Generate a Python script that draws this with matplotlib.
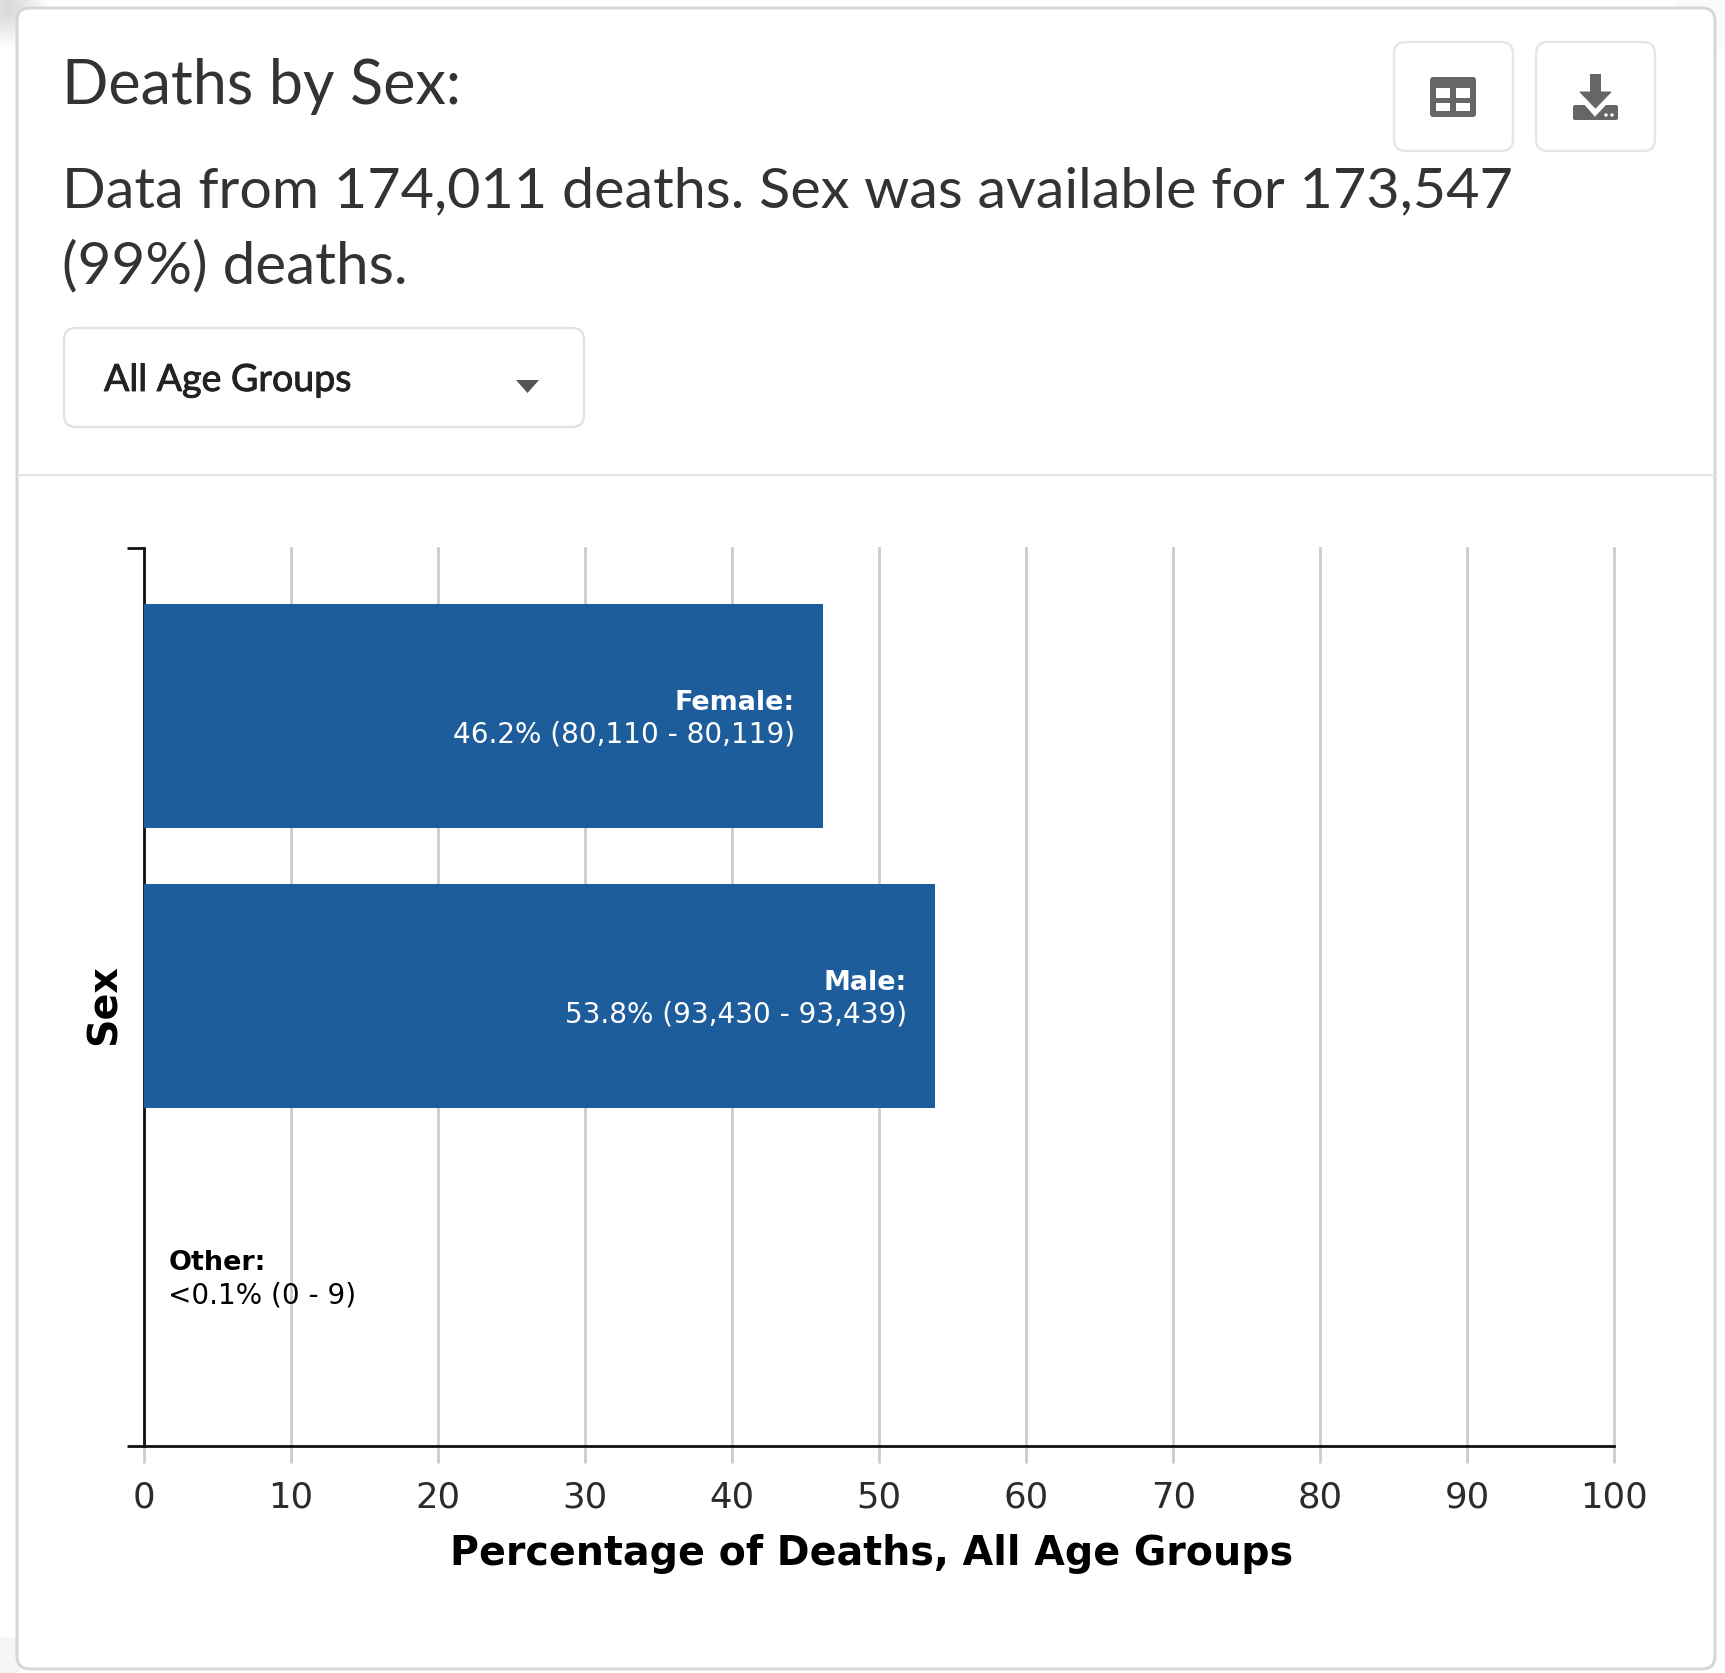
import matplotlib
matplotlib.use("Agg")
import matplotlib.pyplot as plt
import matplotlib.patheffects as pe
from matplotlib.patches import FancyBboxPatch, Rectangle, Polygon, Circle

W, H, DPI = 1725, 1673, 100
px = 72 / DPI  # points per pixel

# ---- data ----
categories = ["Female", "Male", "Other"]
percentages = [46.2, 53.8, 0.0]
value_labels = ["46.2% (80,110 - 80,119)", "53.8% (93,430 - 93,439)", "<0.1% (0 - 9)"]
x_ticks = [0, 10, 20, 30, 40, 50, 60, 70, 80, 90, 100]
x_title = "Percentage of Deaths, All Age Groups"
y_title = "Sex"
heading = "Deaths by Sex:"
subheading = ["Data from 174,011 deaths. Sex was available for 173,547", "(99%) deaths."]
dropdown_text = "All Age Groups"

BLUE = "#1e5d9c"
GRID = "#cccccc"
INK = "#333333"

fig = plt.figure(figsize=(W / DPI, H / DPI), dpi=DPI, facecolor="white")

# ---- page chrome, in pixel coordinates ----
ui = fig.add_axes([0, 0, 1, 1], zorder=0)
ui.set_xlim(0, W)
ui.set_ylim(H, 0)
ui.axis("off")


def box(x0, y0, x1, y1, r, ec, lw, fc="white", z=2):
    ui.add_patch(FancyBboxPatch((x0 + r, y0 + r), x1 - x0 - 2 * r, y1 - y0 - 2 * r,
                                boxstyle=f"round,pad={r},rounding_size={r}",
                                fc=fc, ec=ec, lw=lw * px, zorder=z))


# soft smudge behind the card's top-left corner
for radius in range(40, 4, -3):
    ui.add_patch(Circle((8, 8), radius, fc="#888888", ec="none", alpha=0.022, zorder=1))
ui.add_patch(Rectangle((0, 1637), 20, 36, fc="#f6f6f6", ec="none", zorder=1))
ui.add_patch(Rectangle((1677, 0), 48, 50, fc="#fbfbfb", ec="none", zorder=1))
box(17, 8, 1715, 1669, 13, "#d6d6d6", 3)
ui.plot([18, 1714], [475, 475], color="#e6e6e6", lw=2.2 * px, zorder=3)

box(1394, 42, 1513, 151, 12, "#e6e6e6", 2.4, z=3)
box(1536, 42, 1655, 151, 12, "#e6e6e6", 2.4, z=3)
box(64, 328, 584, 427, 12, "#e2e2e2", 2.4, z=3)

ICON = "#666666"
box(1430, 77, 1476, 117, 3, ICON, 0, fc=ICON, z=4)
for cx0, cx1 in [(1436, 1450), (1456, 1470)]:
    for cy0, cy1 in [(88, 98), (103, 111)]:
        ui.add_patch(Rectangle((cx0, cy0), cx1 - cx0, cy1 - cy0, fc="white", ec="none", zorder=5))

box(1573, 105, 1618, 120, 2, ICON, 0, fc=ICON, z=4)
ui.add_patch(Polygon([(1581, 97), (1595, 113), (1610, 97)], fc="white", ec="white", lw=5 * px, zorder=5))
ui.add_patch(Rectangle((1590, 74), 11, 20, fc=ICON, ec="none", zorder=6))
ui.add_patch(Polygon([(1580, 92), (1611, 92), (1595.5, 108)], fc=ICON, ec=ICON, lw=1 * px, zorder=6))
for cx in (1606, 1612):
    ui.add_patch(Circle((cx, 115), 1.7, fc="white", ec="none", zorder=6))

ui.add_patch(Polygon([(516, 380), (539, 380), (527.5, 393)], fc="#555555", ec="none", zorder=5))

ui.text(62.5, 86, heading, family="Lato", size=61 * px, color=INK, va="center", zorder=6)
ui.text(62, 192, subheading[0], family="Lato", size=57.45 * px, color=INK, va="center", zorder=6)
ui.text(62.5, 267, subheading[1], family="Lato", size=58.4 * px, color=INK, va="center", zorder=6)
ui.text(104, 380, dropdown_text, family="Lato", size=37.5 * px, color="#222222",
        va="center", zorder=6,
        path_effects=[pe.withStroke(linewidth=0.9 * px, foreground="#222222")])

# ---- chart ----
x0, x1, y_top, y_bot = 143.5, 1614.5, 548.5, 1446
ax = fig.add_axes([x0 / W, 1 - y_bot / H, (x1 - x0) / W, (y_bot - y_top) / H], zorder=2)
ax.patch.set_alpha(0)

positions = list(range(len(categories)))
ax.barh(positions, percentages, height=0.80, color=BLUE, zorder=3)
ax.set_xlim(0, 100)
ax.set_ylim(2.607, -0.598)

ax.set_xticks(x_ticks)
ax.set_xticklabels([str(t) for t in x_ticks])
ax.tick_params(axis="x", length=17 * px, width=2.8 * px, color=GRID, labelsize=35.5 * px,
               labelcolor="#2b2b2b", pad=18 * px)
ax.grid(axis="x", color=GRID, lw=2.8 * px, zorder=1)
for line in ax.get_xgridlines():
    line.set_clip_on(False)
ax.set_axisbelow(True)

ax.set_yticks(ax.get_ylim())
ax.set_yticklabels([])
ax.tick_params(axis="y", length=17 * px, width=2.8 * px, color="#111111")

for side in ("top", "right"):
    ax.spines[side].set_visible(False)
for side in ("left", "bottom"):
    ax.spines[side].set_color("#111111")
    ax.spines[side].set_linewidth(2.8 * px)
    ax.spines[side].set_zorder(2.5)

for pos, cat, pct, lab in zip(positions, categories, percentages, value_labels):
    inside = pct > 5
    xt = pct if inside else 0
    off = -28 if inside else 25
    ha = "right" if inside else "left"
    col = "white" if inside else "black"
    ax.annotate(f"{cat}:", (xt, pos), xytext=(off * px, 13 * px), textcoords="offset points",
                ha=ha, va="center", fontsize=27 * px, fontweight="bold", color=col, zorder=5)
    ax.annotate(lab, (xt, pos), xytext=(off * px, -19 * px), textcoords="offset points",
                ha=ha, va="center", fontsize=27.9 * px, color=col, zorder=5)

ax.set_xlabel(x_title, fontsize=39.5 * px, fontweight="bold", color="black", labelpad=19 * px)
ax.xaxis.label.set_x(0.5 - 7.7 / (x1 - x0))
ax.set_ylabel(y_title, fontsize=39.5 * px, fontweight="bold", color="black", labelpad=0)
ax.yaxis.set_label_coords(-19 / (x1 - x0), 0.5 - 7 / (y_bot - y_top))

fig.savefig("out.png", dpi=DPI, facecolor="white")
